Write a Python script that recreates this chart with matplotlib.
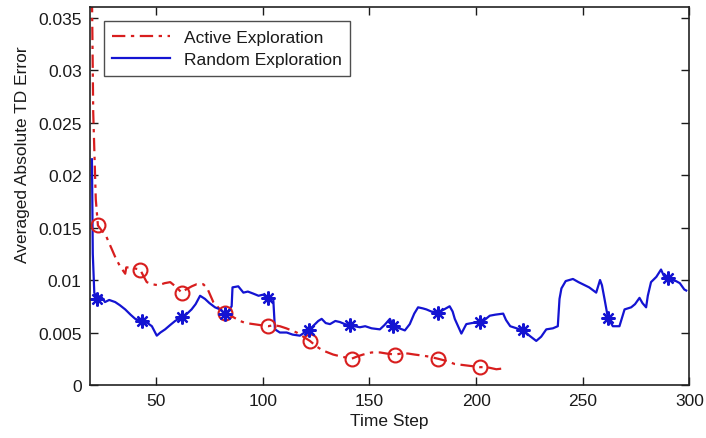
import numpy as np
import matplotlib
matplotlib.use("Agg")
import matplotlib.pyplot as plt

plt.rcParams['font.family'] = ['Liberation Sans', 'DejaVu Sans']

# ---- data ----
active_x = [19.5, 20.5, 21.7, 22.7, 24.5, 26.1, 28, 29.3, 31, 33.1, 35.5, 36, 38, 40, 42.5, 44, 45.6,
            48, 51.1, 54, 56.6, 59, 62, 64, 66.7, 69, 72.1, 74, 76.8, 79.5, 82.3, 85, 89.3, 92,
            95.6, 99, 102.6, 105, 108, 111, 113.5, 115.9, 119, 122.1, 125, 128, 130.5, 133, 137,
            141.6, 144, 147, 151, 155, 158, 161.9, 165, 168, 171.2, 175, 178, 182.2, 186, 190,
            194, 198, 201.7, 205, 209.5, 213.5]
active_y = [0.045, 0.026, 0.0177, 0.0152, 0.0147, 0.0144, 0.0135, 0.0129, 0.0121, 0.0113, 0.0106,
            0.0112, 0.0112, 0.0111, 0.0110, 0.0104, 0.0098, 0.0096, 0.0095, 0.0097, 0.0098, 0.0094,
            0.0088, 0.0091, 0.0094, 0.0096, 0.0096, 0.0092, 0.0079, 0.0073, 0.0069, 0.0066, 0.0061,
            0.0059, 0.0058, 0.0057, 0.0056, 0.0057, 0.0056, 0.0054, 0.0052, 0.0050, 0.0046, 0.0042,
            0.0037, 0.0033, 0.0031, 0.0029, 0.0027, 0.0025, 0.0027, 0.0029, 0.0031, 0.0031, 0.0030,
            0.0029, 0.0030, 0.0030, 0.0029, 0.0028, 0.0027, 0.0025, 0.0023, 0.0020, 0.0019, 0.0018,
            0.0017, 0.0017, 0.0015, 0.0016]
active_marker_x = [22.7, 42.5, 62, 82.3, 102.6, 122.1, 141.6, 161.9, 182.2, 201.7]

random_x = [19.9, 20.3, 21.0, 22.3, 24, 26, 28, 30.8, 33, 35.5, 38, 40.2, 43.3, 46, 48, 50.3, 52,
            54.2, 56.5, 58.9, 62, 64, 66.6, 68.5, 70.6, 72.9, 75, 77.6, 80, 82.3, 84, 85.4, 85.8,
            88.5, 90.9, 93, 95.6, 98, 100, 102.6, 104.9, 105.7, 108, 111.2, 114, 117.4, 119.5,
            121.5, 124, 126, 127.6, 129.5, 131.5, 134, 136.1, 138.5, 140.8, 143, 145.5, 148, 151,
            154.9, 157, 159.6, 161.1, 164, 166.6, 168.9, 171, 172.8, 175, 176.7, 179, 182.2, 185,
            187.6, 189, 190, 193.1, 195.4, 198, 201.7, 204, 206.4, 209, 212.7, 214, 216, 219, 222,
            225, 228.2, 230.5, 232.9, 236, 238.3, 239.1, 240, 242, 245.4, 248, 250, 253, 256.3,
            258.1, 259, 260.2, 261.8, 264.1, 267.2, 269.6, 272.7, 274.5, 276.6, 278, 279.7, 280.5,
            282, 284.5, 286.7, 288, 289.8, 291.5, 293.7, 295.5, 297.6, 298.5]
random_y = [0.0215, 0.0125, 0.0088, 0.0082, 0.0085, 0.0079, 0.0081, 0.0079, 0.0076, 0.0072, 0.0067,
            0.0063, 0.0061, 0.0059, 0.0056, 0.0047, 0.0050, 0.0053, 0.0057, 0.0061, 0.0065, 0.0067,
            0.0072, 0.0077, 0.0085, 0.0082, 0.0078, 0.0074, 0.0072, 0.0068, 0.0071, 0.0075, 0.0093,
            0.0094, 0.0088, 0.0089, 0.0087, 0.0085, 0.0086, 0.0083, 0.0082, 0.0053, 0.0050, 0.0050,
            0.0048, 0.0047, 0.0050, 0.0052, 0.0057, 0.0061, 0.0063, 0.0059, 0.0058, 0.0061, 0.0060,
            0.0058, 0.0057, 0.0056, 0.0055, 0.0056, 0.0054, 0.0053, 0.0057, 0.0063, 0.0056, 0.0054,
            0.0052, 0.0058, 0.0068, 0.0074, 0.0073, 0.0072, 0.0070, 0.0069, 0.0072, 0.0075, 0.0070,
            0.0063, 0.0049, 0.0058, 0.0059, 0.0060, 0.0062, 0.0066, 0.0067, 0.0068, 0.0062, 0.0056,
            0.0054, 0.0052, 0.0047, 0.0042, 0.0046, 0.0053, 0.0054, 0.0056, 0.0082, 0.0092, 0.0099,
            0.0101, 0.0098, 0.0096, 0.0093, 0.0088, 0.0100, 0.0095, 0.0082, 0.0064, 0.0056, 0.0056,
            0.0072, 0.0074, 0.0077, 0.0083, 0.0078, 0.0074, 0.0085, 0.0098, 0.0103, 0.0110, 0.0104,
            0.0102, 0.0100, 0.0099, 0.0097, 0.0091, 0.0090]
random_marker_x = [22.3, 43.3, 62, 82.3, 102.6, 121.5, 140.8, 161.1, 182.2, 201.7, 222, 261.8, 289.8]

x_ticks = [50, 100, 150, 200, 250, 300]
y_ticks = [0, 0.005, 0.01, 0.015, 0.02, 0.025, 0.03, 0.035]
y_tick_labels = ['0', '0.005', '0.01', '0.015', '0.02', '0.025', '0.03', '0.035']
labels = ['Active Exploration', 'Random Exploration']

RED = '#d81e1e'
BLUE = '#1414d2'
TXT = '#1a1a1a'

fig = plt.figure(figsize=(7.06, 4.39), dpi=100)
ax = fig.add_axes([0.1275, 0.1207, 0.849, 0.861])

ax_x = np.array(active_x); ax_y = np.array(active_y)
rx = np.array(random_x); ry = np.array(random_y)

ax.plot(ax_x, ax_y, color=RED, lw=1.6, dashes=(6, 2.5, 1.5, 2.5), label=labels[0])
ax.plot(rx, ry, color=BLUE, lw=1.6, label=labels[1])

ai = [active_x.index(v) for v in active_marker_x]
ri = [random_x.index(v) for v in random_marker_x]
ax.plot(ax_x[ai], ax_y[ai], linestyle='none', marker='o', ms=10, mfc='none',
        mec=RED, mew=1.5)
ax.plot(rx[ri], ry[ri], linestyle='none', marker=(8, 2, 0), ms=10, mec=BLUE,
        mew=1.6)

ax.set_xlim(19, 300)
ax.set_ylim(0, 0.036)
ax.set_xticks(x_ticks)
ax.set_yticks(y_ticks)
ax.set_yticklabels(y_tick_labels)
ax.tick_params(direction='in', length=6, width=1, top=True, right=True,
               labelsize=12.5, colors=TXT, pad=6)
for s in ax.spines.values():
    s.set_linewidth(1.2)
    s.set_color('#222222')

ax.set_xlabel('Time Step', fontsize=12.5, color=TXT, labelpad=3)
ax.set_ylabel('Averaged Absolute TD Error', fontsize=12.5, color=TXT)
ax.yaxis.set_label_coords(-0.1, 0.611)

leg = ax.legend(loc='upper left', bbox_to_anchor=(0.023, 0.963), fontsize=12.5,
                frameon=True, fancybox=False, handlelength=3.3, borderpad=0.5,
                labelspacing=0.4, handletextpad=0.8, borderaxespad=0)
leg.get_frame().set_edgecolor('#222222')
leg.get_frame().set_linewidth(1.0)
for t in leg.get_texts():
    t.set_color(TXT)

fig.savefig('out.png', dpi=100)
